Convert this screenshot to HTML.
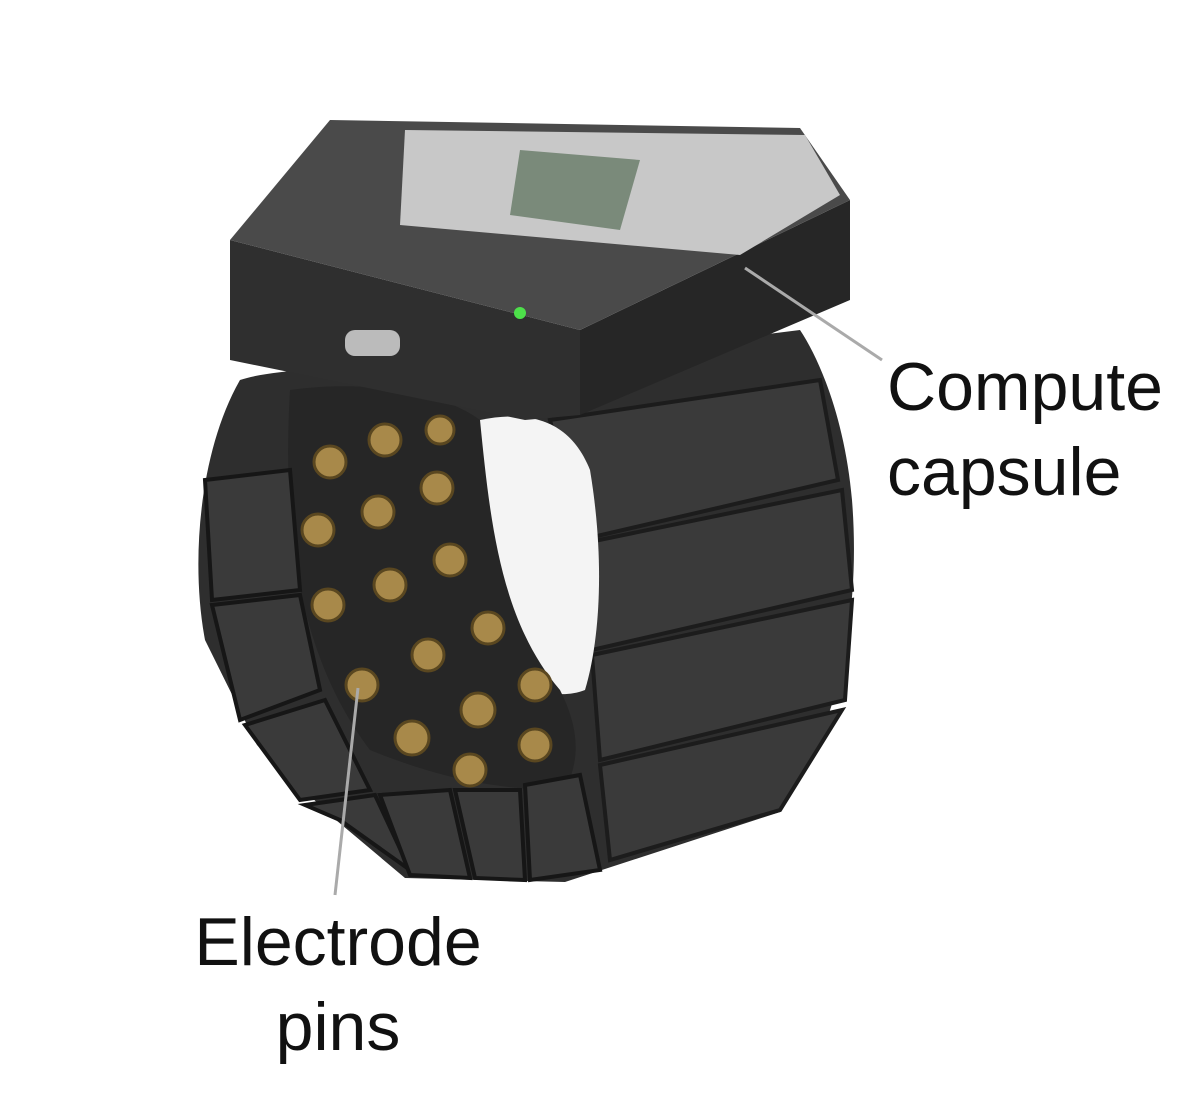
<!DOCTYPE html>
<html><head><style>
html,body{margin:0;padding:0;background:#fff;}
.w{position:relative;width:1200px;height:1116px;overflow:hidden;background:#fff;}
svg{position:absolute;left:0;top:0;}
.t{position:absolute;font-family:"Liberation Sans",sans-serif;font-size:68px;color:#111;line-height:85px;}
</style></head><body><div class="w">
<svg width="1200" height="1116" viewBox="0 0 1200 1116">
<!-- band outer -->
<path d="M240 380 C200 450 190 560 205 640 L257 745 L330 815 L405 878 L565 882 L780 812 C845 720 860 600 852 500 C845 420 820 360 800 330 L560 360 C480 370 300 360 240 380 Z" fill="#2e2e2e"/>
<!-- right segments -->
<g fill="#3a3a3a" stroke="#1c1c1c" stroke-width="4">
<path d="M550 420 L820 380 L838 480 L580 540 Z"/>
<path d="M575 545 L842 490 L852 590 L592 650 Z"/>
<path d="M592 655 L852 600 L845 700 L600 760 Z"/>
<path d="M600 765 L842 710 L780 810 L610 860 Z"/>
</g>
<!-- inner hole -->
<path d="M480 420 C530 410 570 420 590 470 C605 560 600 640 585 690 C560 700 530 690 510 680 C490 600 480 500 480 420 Z" fill="#f4f4f4"/>
<!-- inner electrode surface -->
<path d="M290 390 C360 380 440 390 480 420 C490 520 500 620 560 690 C580 730 580 760 565 790 C480 790 420 770 370 750 C310 670 280 560 290 390 Z" fill="#262626"/>
<g fill="#3a3a3a" stroke="#161616" stroke-width="4">
<path d="M205 480 L290 470 L300 590 L212 600 Z"/>
<path d="M212 605 L300 595 L320 690 L240 720 Z"/>
<path d="M245 725 L325 700 L370 790 L300 800 Z"/>
<path d="M305 805 L375 795 L410 870 L340 820 Z"/>
<path d="M380 795 L450 790 L470 878 L410 875 Z"/>
<path d="M455 790 L520 790 L525 880 L475 878 Z"/>
<path d="M525 785 L580 775 L600 870 L530 880 Z"/>
</g>
<!-- pins -->
<g fill="#a8894a" stroke="#5a4720" stroke-width="3">
<circle cx="330" cy="462" r="16"/><circle cx="385" cy="440" r="16"/><circle cx="440" cy="430" r="14"/>
<circle cx="318" cy="530" r="16"/><circle cx="378" cy="512" r="16"/><circle cx="437" cy="488" r="16"/>
<circle cx="328" cy="605" r="16"/><circle cx="390" cy="585" r="16"/><circle cx="450" cy="560" r="16"/>
<circle cx="362" cy="685" r="16"/><circle cx="428" cy="655" r="16"/><circle cx="488" cy="628" r="16"/>
<circle cx="412" cy="738" r="17"/><circle cx="478" cy="710" r="17"/><circle cx="535" cy="685" r="16"/>
<circle cx="470" cy="770" r="16"/><circle cx="535" cy="745" r="16"/>
</g>
<!-- capsule -->
<path d="M230 240 L580 330 L580 415 L525 420 L230 360 Z" fill="#2f2f2f"/>
<path d="M580 330 L850 200 L850 300 L580 415 Z" fill="#262626"/>
<path d="M230 240 L330 120 L800 128 L850 200 L580 330 Z" fill="#4a4a4a"/>
<path d="M405 130 L805 135 L840 195 L740 255 L400 225 Z" fill="#c8c8c8"/>
<path d="M520 150 L640 160 L620 230 L510 215 Z" fill="#7a8a7a"/>
<circle cx="520" cy="313" r="6" fill="#4de04a"/>
<rect x="345" y="330" width="55" height="26" rx="10" fill="#bbb"/>
<!-- leaders -->
<line x1="745" y1="268" x2="882" y2="360" stroke="#aaa" stroke-width="3"/>
<line x1="358" y1="688" x2="335" y2="895" stroke="#aaa" stroke-width="3"/>
</svg>
<div class="t" style="left:887px;top:345px;">Compute<br>capsule</div>
<div class="t" style="left:180px;top:900px;text-align:center;width:316px;">Electrode<br>pins</div>
</div></body></html>
